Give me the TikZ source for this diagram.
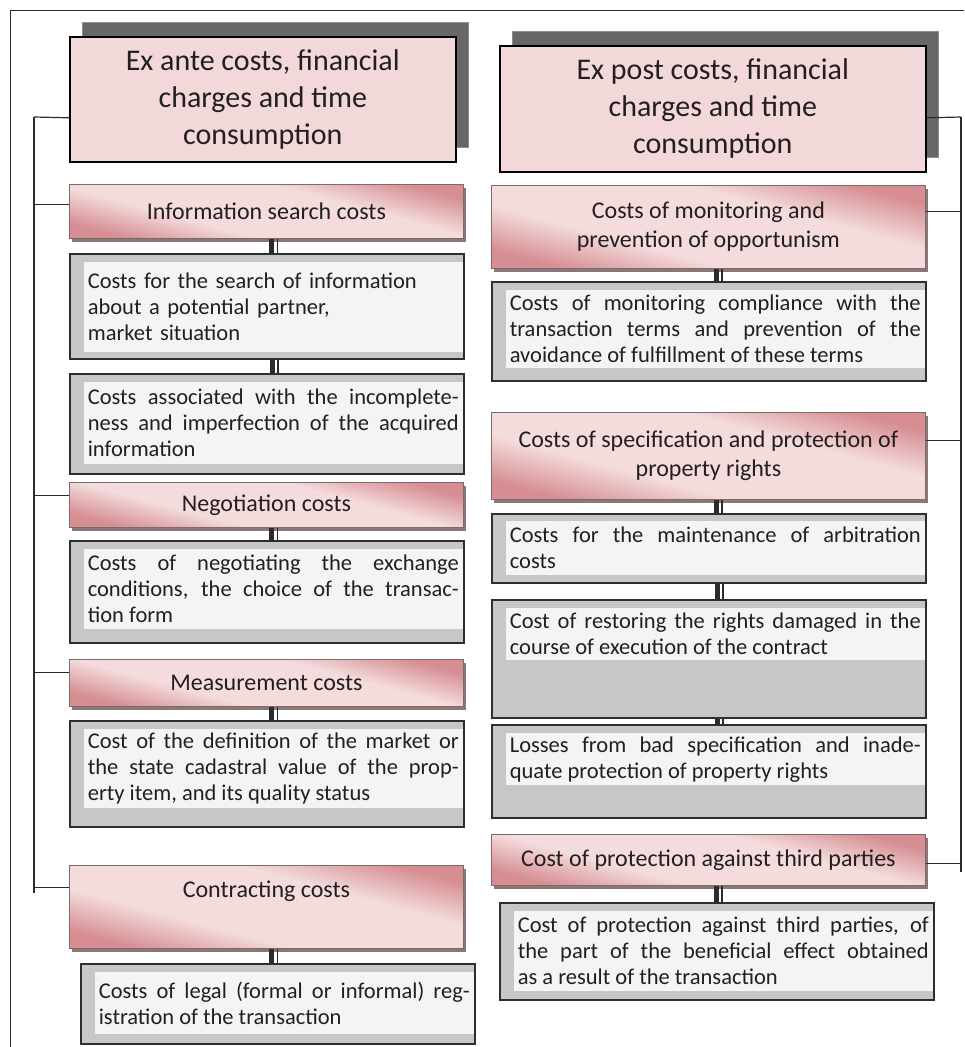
\documentclass[tikz,border=0pt]{standalone}
\usepackage{fontspec}
\setmainfont{Carlito}
\usetikzlibrary{shadows}
\setlength{\parindent}{0pt}

\definecolor{pinkhead}{HTML}{F2D8D9}
\definecolor{pinklight}{HTML}{F4DCDD}
\definecolor{pinkdark}{HTML}{D68E92}
\definecolor{grayouter}{HTML}{C6C7C9}
\definecolor{grayinner}{HTML}{F3F4F6}
\definecolor{borderdark}{HTML}{2E2E2E}
\definecolor{boxrim}{HTML}{7A6C6C}
\definecolor{shadowbrown}{HTML}{8B7777}
\definecolor{hdshadow}{HTML}{676767}
\definecolor{hdrim}{HTML}{8C8C8C}
\definecolor{linedark}{HTML}{2B2B2B}
\definecolor{textdark}{HTML}{231F20}

\pgfdeclarehorizontalshading{pinkband}{100bp}{color(0bp)=(pinkdark); color(25bp)=(pinkdark); color(39bp)=(pinklight); color(61bp)=(pinklight); color(75bp)=(pinkdark); color(100bp)=(pinkdark)}

\tikzset{
  headbox/.style={draw=black, line width=1.6pt, fill=pinkhead, align=center, text=textdark,
    font=\fontsize{30}{37}\selectfont, anchor=north west, inner sep=0pt,
    drop shadow={shadow xshift=13pt, shadow yshift=14pt, fill=hdshadow, draw=hdrim, line width=1pt, opacity=1}},
  costbox/.style={draw=boxrim, line width=0.8pt, shade, shading=pinkband, shading angle=75, align=center,
    text=textdark, font=\fontsize{24}{29}\selectfont, anchor=north west, inner sep=0pt,
    drop shadow={shadow xshift=3pt, shadow yshift=-4pt, fill=shadowbrown, opacity=1}},
  greybox/.style={draw=borderdark, line width=2.4pt, fill=grayouter, anchor=north west, inner sep=0pt},
  itembox/.style={fill=grayinner, anchor=north east, inner xsep=4pt, inner ysep=0pt, align=justify,
    font=\fontsize{22.5}{26}\selectfont, text=textdark},
  spine/.style={draw=linedark, line width=1.2pt},
  barthick/.style={draw=linedark, line width=5pt},
  barthin/.style={draw=linedark, line width=1.8pt},
  frame/.style={draw=linedark, line width=1pt}
}

\begin{document}
\begin{tikzpicture}[x=1pt,y=-1pt]
    \useasboundingbox (0,0) rectangle (964,1047);
    % Frame
    \draw[frame] (10,1047) -- (10,10) -- (964,10);

    % Ex ante column
    \node[headbox, minimum width=386pt, minimum height=125pt] (hdA) at (69,36)
        {Ex ante costs, financial\\charges and time\\consumption};
    \node[costbox, minimum width=394pt, minimum height=54pt] (info) at (69,184) {Information search costs};
    \node[greybox, minimum width=394pt, minimum height=105pt] (d1) at (69,253) {};
    \node[itembox, text width=371pt, minimum height=90pt, align=left] (d1t) at ([xshift=-2.4pt,yshift=-9pt]d1.north east)
        {Costs for the search of information\\about a potential partner,\\market situation};
    \node[greybox, minimum width=394pt, minimum height=100pt] (d2) at (69,373) {};
    \node[itembox, text width=371pt, minimum height=82pt] (d2t) at ([xshift=-2.4pt,yshift=-9pt]d2.north east)
        {Costs associated with the incomplete-\linebreak ness and imperfection of the acquired\linebreak information};
    \node[costbox, minimum width=394pt, minimum height=45pt] (nego) at (69,482) {Negotiation costs};
    \node[greybox, minimum width=394pt, minimum height=102pt] (d3) at (69,540) {};
    \node[itembox, text width=371pt, minimum height=80pt] (d3t) at ([xshift=-2.4pt,yshift=-9pt]d3.north east)
        {Costs of negotiating the exchange\linebreak conditions, the choice of the transac-\linebreak tion form};
    \node[costbox, minimum width=394pt, minimum height=47pt] (meas) at (69,659) {Measurement costs};
    \node[greybox, minimum width=394pt, minimum height=106pt] (d4) at (69,720) {};
    \node[itembox, text width=371pt, minimum height=79pt] (d4t) at ([xshift=-2.4pt,yshift=-9pt]d4.north east)
        {Cost of the definition of the market or\linebreak the state cadastral value of the prop-\linebreak erty item, and its quality status};
    \node[costbox, minimum width=394pt, minimum height=83pt] (contr) at (69,865) {Contracting costs\\[6pt]\mbox{}};
    \node[greybox, minimum width=394pt, minimum height=80pt] (d5) at (80,963) {};
    \node[itembox, text width=371pt, minimum height=62pt] (d5t) at ([xshift=-2.4pt,yshift=-9pt]d5.north east)
        {Costs of legal (formal or informal) reg-\linebreak istration of the transaction};

    % Ex post column
    \node[headbox, minimum width=426pt, minimum height=126pt] (hdB) at (499,45)
        {Ex post costs, financial\\charges and time\\consumption};
    \node[costbox, minimum width=434pt, minimum height=83pt] (mon) at (491,185)
        {Costs of monitoring and\\prevention of opportunism};
    \node[greybox, minimum width=434pt, minimum height=99pt] (r1) at (491,281) {};
    \node[itembox, text width=411pt, minimum height=78pt] (r1t) at ([xshift=-2.4pt,yshift=-9pt]r1.north east)
        {Costs of monitoring compliance with the\linebreak transaction terms and prevention of the\linebreak avoidance of fulfillment of these terms};
    \node[costbox, minimum width=434pt, minimum height=87pt] (spec) at (491,412)
        {Costs of specification and protection of\\property rights};
    \node[greybox, minimum width=434pt, minimum height=69pt] (r2) at (491,513) {};
    \node[itembox, text width=411pt, minimum height=54pt] (r2t) at ([xshift=-2.4pt,yshift=-8pt]r2.north east)
        {Costs for the maintenance of arbitration\linebreak costs};
    \node[greybox, minimum width=434pt, minimum height=118pt] (r3) at (491,599) {};
    \node[itembox, text width=411pt, minimum height=52pt] (r3t) at ([xshift=-2.4pt,yshift=-9pt]r3.north east)
        {Cost of restoring the rights damaged in the\linebreak course of execution of the contract};
    \node[greybox, minimum width=434pt, minimum height=93pt] (r4) at (491,724) {};
    \node[itembox, text width=411pt, minimum height=52pt] (r4t) at ([xshift=-2.4pt,yshift=-9pt]r4.north east)
        {Losses from bad specification and inade-\linebreak quate protection of property rights};
    \node[costbox, minimum width=434pt, minimum height=51pt] (third) at (491,834)
        {Cost of protection against third parties};
    \node[greybox, minimum width=434pt, minimum height=97pt] (r5) at (499,902) {};
    \node[itembox, text width=411pt, minimum height=80pt] (r5t) at ([xshift=-2.4pt,yshift=-9pt]r5.north east)
        {Cost of protection against third parties, of\linebreak the part of the beneficial effect obtained\linebreak as a result of the transaction};

    % Double links
    \foreach \a/\b/\dx in {info/d1/5.5, d1/d2/5.5, nego/d3/5.5, meas/d4/5.5, contr/d5/5.5,
                           mon/r1/8, spec/r2/8, r2/r3/8, r3/r4/8, third/r5/8} {
        \draw[barthick] ([xshift=\dx pt]\a.south) -- ([xshift=\dx pt]\a.south |- \b.north);
        \draw[barthin] ([xshift=\dx pt+5.5pt]\a.south) -- ([xshift=\dx pt+5.5pt]\a.south |- \b.north);
    }

    % Left spine
    \coordinate (ltop) at (34,117);
    \coordinate (lend) at (34,893);
    \draw[spine] (ltop) -- (lend);
    \draw[spine] ([yshift=-18.5pt]hdA.west) -- (ltop);
    \draw[spine] ([yshift=7pt]info.west) -- ++(-35,0);
    \draw[spine] ([yshift=9.5pt]nego.west) -- ++(-35,0);
    \draw[spine] ([yshift=10.5pt]meas.west) -- ++(-35,0);
    \draw[spine] ([yshift=19.5pt]contr.west) -- ++(-35,0);

    % Right spine
    \coordinate (rtop) at (961,117);
    \coordinate (rend) at (961,872);
    \draw[spine] (rtop) -- (rend);
    \draw[spine] ([yshift=-9pt]hdB.east) -- (rtop);
    \draw[spine] ([yshift=15.5pt]mon.east) -- ++(36,0);
    \draw[spine] ([yshift=15.5pt]spec.east) -- ++(36,0);
    \draw[spine] ([yshift=-3.5pt]third.east) -- ++(36,0);
\end{tikzpicture}
\end{document}
